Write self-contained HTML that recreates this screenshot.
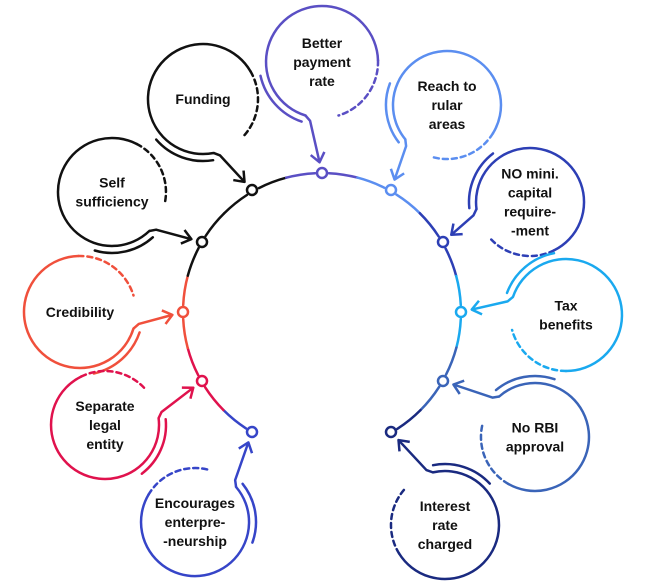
<!DOCTYPE html>
<html><head><meta charset="utf-8"><style>
html,body{margin:0;padding:0;background:#fff;}
svg{display:block;}
text{font-family:"Liberation Sans",Arial,sans-serif;font-weight:bold;font-size:14px;text-anchor:middle;fill:#111;}
</style></head><body>
<svg id="s" width="658" height="588" viewBox="0 0 658 588" xmlns="http://www.w3.org/2000/svg"></svg>
<script>
const S=document.getElementById('s');let h='';
const C=[322,312],R=139;
const B=[
 {n:[252,190],c:[203,99],r:55,col:'#111',t:['Funding']},
 {n:[202,242],c:[112,192],r:54,col:'#111',t:['Self','sufficiency']},
 {n:[183,312],c:[80,312],r:56,col:'#f0503c',t:['Credibility']},
 {n:[202,381],c:[105,425],r:54,col:'#e0124d',t:['Separate','legal','entity']},
 {n:[252,432],c:[195,522],r:54,col:'#3645c8',t:['Encourages','enterpre-','-neurship']},
 {n:[322,173],c:[322,62],r:56,col:'#5a4fc4',t:['Better','payment','rate']},
 {n:[391,190],c:[447,105],r:54,col:'#5b8ef0',t:['Reach to','rular','areas']},
 {n:[443,242],c:[530,202],r:54,col:'#2d3fb5',t:['NO mini.','capital','require-','-ment']},
 {n:[461,312],c:[566,315],r:56,col:'#1aa9ef',t:['Tax','benefits']},
 {n:[443,381],c:[535,437],r:54,col:'#3a64b8',t:['No RBI','approval']},
 {n:[391,432],c:[445,525],r:54,col:'#1a2a80',t:['Interest','rate','charged']},
];
function P(c,r,a){return [c[0]+r*Math.cos(a),c[1]+r*Math.sin(a)];}
function arc(c,r,a1,a2,col,w,dash){const p1=P(c,r,a1),p2=P(c,r,a2);const large=Math.abs(a2-a1)>Math.PI?1:0;const sw=a2>a1?1:0;
 h+=`<path d="M${p1[0].toFixed(1)} ${p1[1].toFixed(1)} A${r} ${r} 0 ${large} ${sw} ${p2[0].toFixed(1)} ${p2[1].toFixed(1)}" fill="none" stroke="${col}" stroke-width="${w}" ${dash?'stroke-dasharray="5 4"':''} stroke-linecap="round"/>`;}
const order=[4,3,2,1,0,5,6,7,8,9,10];
for(let i=0;i<order.length-1;i++){const a=B[order[i]],b=B[order[i+1]];
 let a1=Math.atan2(a.n[1]-C[1],a.n[0]-C[0]),a2=Math.atan2(b.n[1]-C[1],b.n[0]-C[0]);
 let A1=a1<0?a1+2*Math.PI:a1, A2=a2<0?a2+2*Math.PI:a2;
 if(i>=5){A1=a1;A2=a2;}
 if(A2<A1)A2+=2*Math.PI;
 const mid=(A1+A2)/2;
 arc(C,R,A1+0.05,mid,a.col,2.5);arc(C,R,mid,A2-0.05,b.col,2.5);}
B.forEach(b=>{
 const d=Math.atan2(b.n[1]-b.c[1],b.n[0]-b.c[0]);
 const r=b.r;
 arc(b.c,r,d+0.3,d+2*Math.PI-1.6,b.col,2.5);
 arc(b.c,r,d-1.6,d-0.3,b.col,2.5,true);
 arc(b.c,r+7,d+0.33,d+1.35,b.col,2.5);
 const s=P(b.c,r+4,d+0.2);
 const L=Math.hypot(b.n[0]-s[0],b.n[1]-s[1]);
 const ux=(b.n[0]-s[0])/L,uy=(b.n[1]-s[1])/L;
 const e=[b.n[0]-ux*11,b.n[1]-uy*11];
 const p0=P(b.c,r,d+0.3);
 h+=`<path d="M${p0[0]} ${p0[1]} L${s[0]} ${s[1]} L${e[0]} ${e[1]}" fill="none" stroke="${b.col}" stroke-width="2.5" stroke-linejoin="round"/>`;
 const px=-uy,py=ux;
 h+=`<path d="M${e[0]-ux*9+px*7} ${e[1]-uy*9+py*7} L${e[0]} ${e[1]} L${e[0]-ux*9-px*7} ${e[1]-uy*9-py*7}" fill="none" stroke="${b.col}" stroke-width="2.5" stroke-linejoin="round"/>`;
 h+=`<circle cx="${b.n[0]}" cy="${b.n[1]}" r="5" fill="#fff" stroke="${b.col}" stroke-width="2.5"/>`;
 const n=b.t.length,y0=b.c[1]-(n-1)*9.5+5;
 b.t.forEach((t,i)=>{h+=`<text x="${b.c[0]}" y="${y0+i*19}">${t}</text>`;});
});
S.innerHTML=h;
</script>
</body></html>
